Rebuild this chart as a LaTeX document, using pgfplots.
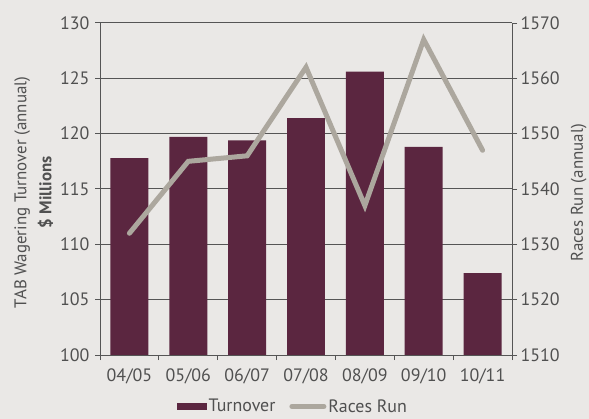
\documentclass[border=0pt]{standalone}
\usepackage{fontspec}
\setmainfont{PT Sans}
\usepackage{pgfplots}
\pgfplotsset{compat=1.18}
\definecolor{bgcol}{HTML}{EAE8E6}
\definecolor{barcol}{HTML}{5B2640}
\definecolor{linecol}{HTML}{ACA79E}
\definecolor{txtcol}{HTML}{505050}
\definecolor{gridcol}{HTML}{555555}
\begin{document}
\begin{tikzpicture}
\fill[bgcol] (0,0) rectangle (589bp,419bp);
\useasboundingbox (0,0) rectangle (589bp,419bp);
\pgfplotsset{
  common/.style={
    at={(100bp,64bp)}, anchor=south west,
    scale only axis, width=412bp, height=332bp,
    xmin=-0.5, xmax=6.5,
    font=\fontsize{18}{21}\selectfont,
    tick label style={text=txtcol, font=\fontsize{18}{21}\selectfont},
    /pgf/number format/assume math mode=true,
    /pgf/number format/1000 sep={},
    axis line style={gridcol, line width=1bp},
    tick style={gridcol, line width=1bp},
    tick align=outside,
  }
}
\begin{axis}[common,
  axis x line*=bottom, axis y line*=left,
  ymin=100, ymax=130, ytick={100,105,...,130},
  ymajorgrids, grid style={gridcol, line width=1bp},
  major tick length=5bp, minor tick length=5bp,
  xtick={0,...,6},
  xticklabels={04/05,05/06,06/07,07/08,08/09,09/10,10/11},
  major x tick style={draw=none},
  minor xtick={-0.5,0.5,...,6.5},
  xticklabel style={yshift=-5bp},
  yticklabel style={xshift=-2bp},
  ylabel={TAB Wagering Turnover (annual)\\[1bp]\textbf{\$ Millions}},
  ylabel style={at={(axis description cs:-0.161,0.49)}, anchor=center, align=center, text=txtcol, font=\fontsize{17}{24}\selectfont},
  legend columns=2,
  legend style={at={(axis description cs:0.468,-0.155)}, anchor=center, draw=none, fill=none,
    font=\fontsize{18}{21}\selectfont, text=txtcol, inner sep=1bp,
    /tikz/every even column/.append style={column sep=12bp}},
  legend cell align=left,
]
\addplot[ybar, bar width=0.645, fill=barcol, draw=none,
  legend image code/.code={\fill[barcol] (-3bp,-3.5bp) rectangle (27bp,3.5bp);}]
  coordinates {(0,117.8) (1,119.7) (2,119.4) (3,121.4) (4,125.6) (5,118.8) (6,107.4)};
\addlegendentry{Turnover}
\addlegendimage{legend image code/.code={\draw[linecol, line width=5bp, line cap=round] (0bp,0bp) -- (32bp,0bp);}}
\addlegendentry{Races Run}
\end{axis}
\begin{axis}[common,
  axis x line=none, axis y line*=right,
  ymin=1510, ymax=1570, ytick={1510,1520,...,1570},
  major tick length=5bp,
  ylabel={Races Run (annual)},
  ylabel style={at={(axis description cs:1.162,0.488)}, anchor=center, rotate=0, text=txtcol, font=\fontsize{17}{21}\selectfont},
]
\addplot[linecol, line width=5bp, line cap=round, line join=miter]
  coordinates {(0,1532) (1,1545) (2,1546) (3,1562) (4,1537) (5,1567) (6,1547)};
\end{axis}
\end{tikzpicture}
\end{document}
